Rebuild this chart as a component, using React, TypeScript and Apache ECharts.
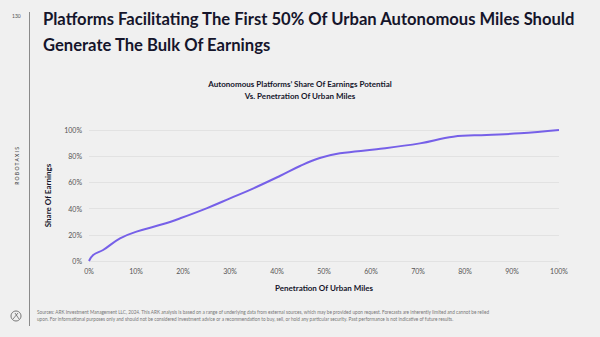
import React, { useEffect, useRef } from "react";
import * as echarts from "echarts";

const penetration = [0, 0.9, 3, 6.6, 10.1, 15.8, 19.4, 25, 30, 35, 40.6, 44.9, 49.1, 53.4, 61.2, 70.4, 77.5, 84.6, 91.7, 100];
const earnings = [0, 4.6, 8.4, 17.3, 22.4, 28.2, 32.6, 40.2, 47.8, 55.5, 64.9, 72.5, 78.6, 82.2, 85.3, 89.8, 94.9, 96.2, 97.5, 100];

const titleLines = [
  "Platforms Facilitating The First 50% Of Urban Autonomous Miles Should",
  "Generate The Bulk Of Earnings",
];
const chartTitleLines = [
  "Autonomous Platforms\u2019 Share Of Earnings Potential",
  "Vs. Penetration Of Urban Miles",
];
const footerLines = [
  "Sources: ARK Investment Management LLC, 2024. This ARK analysis is based on a range of underlying data from external sources, which may be provided upon request. Forecasts are inherently limited and cannot be relied",
  "upon. For informational purposes only and should not be considered investment advice or a recommendation to buy, sell, or hold any particular security. Past performance is not indicative of future results.",
];

export default function App() {
  const ref = useRef<HTMLDivElement>(null);
  useEffect(() => {
    if (!ref.current) return;
    const chart = echarts.init(ref.current, undefined, { renderer: "svg" });
    const font = "Lato, 'Noto Sans', sans-serif";
    const dark = "#15152b";
    chart.setOption({
      animation: false,
      backgroundColor: "#f0f0f0",
      textStyle: { fontFamily: font },
      grid: { left: 89, right: 41, top: 130, bottom: 76 },
      xAxis: {
        type: "value",
        min: 0,
        max: 100,
        interval: 10,
        axisLine: { show: false },
        axisTick: { show: false },
        splitLine: { show: false },
        axisLabel: { formatter: "{value}%", color: "#555", fontSize: 7, margin: 6, fontFamily: font },
        name: "Penetration Of Urban Miles",
        nameLocation: "middle",
        nameGap: 23,
        nameTextStyle: { color: dark, fontSize: 8, fontWeight: "bold", fontFamily: font },
      },
      yAxis: {
        type: "value",
        min: 0,
        max: 100,
        interval: 20,
        axisLine: { show: false },
        axisTick: { show: false },
        splitLine: { lineStyle: { color: "#e2e2e2", width: 1 } },
        axisLabel: { formatter: "{value}%", color: "#555", fontSize: 7, margin: 7, fontFamily: font },
        name: "Share Of Earnings",
        nameLocation: "middle",
        nameRotate: 90,
        nameGap: 37,
        nameTextStyle: { color: dark, fontSize: 8, fontWeight: "bold", fontFamily: font },
      },
      series: [
        {
          type: "line",
          data: penetration.map((x, i) => [x, earnings[i]]),
          smooth: 0.4,
          showSymbol: false,
          lineStyle: { color: "#7660e8", width: 2 },
        },
      ],
      graphic: [
        { type: "line", shape: { x1: 29.5, y1: 12, x2: 29.5, y2: 326 }, style: { stroke: "#8a8a8a", lineWidth: 1 } },
        { type: "text", x: 12, y: 13, style: { text: "130", fontSize: 5, fill: "#555", fontFamily: font } },
        {
          type: "text",
          x: 43,
          y: 6,
          style: { text: titleLines.join("\n"), fontSize: 16.6, lineHeight: 26, fontWeight: "bold", fill: dark, fontFamily: font },
        },
        {
          type: "text",
          x: 300,
          y: 78,
          style: { text: chartTitleLines.join("\n"), fontSize: 8, lineHeight: 12, fontWeight: "bold", fill: dark, align: "center", fontFamily: font },
        },
        {
          type: "text",
          x: 17,
          y: 166,
          rotation: Math.PI / 2,
          style: { text: "R O B O T A X I S", fontSize: 5, fill: "#333", align: "center", verticalAlign: "middle", fontFamily: font },
        },
        {
          type: "text",
          x: 37,
          y: 309,
          style: { text: footerLines.join("\n"), fontSize: 4.7, lineHeight: 6.5, fill: "#777", fontFamily: font },
        },
        { type: "circle", shape: { cx: 16, cy: 316, r: 5 }, style: { fill: "none", stroke: "#555", lineWidth: 0.8 } },
        { type: "line", shape: { x1: 13, y1: 319, x2: 18, y2: 313 }, style: { stroke: "#555", lineWidth: 0.7 } },
        { type: "line", shape: { x1: 15, y1: 313, x2: 19, y2: 319 }, style: { stroke: "#555", lineWidth: 0.7 } },
      ],
    });
    return () => chart.dispose();
  }, []);
  return <div ref={ref} style={{ width: 600, height: 337, position: "absolute", left: 0, top: 0 }} />;
}
